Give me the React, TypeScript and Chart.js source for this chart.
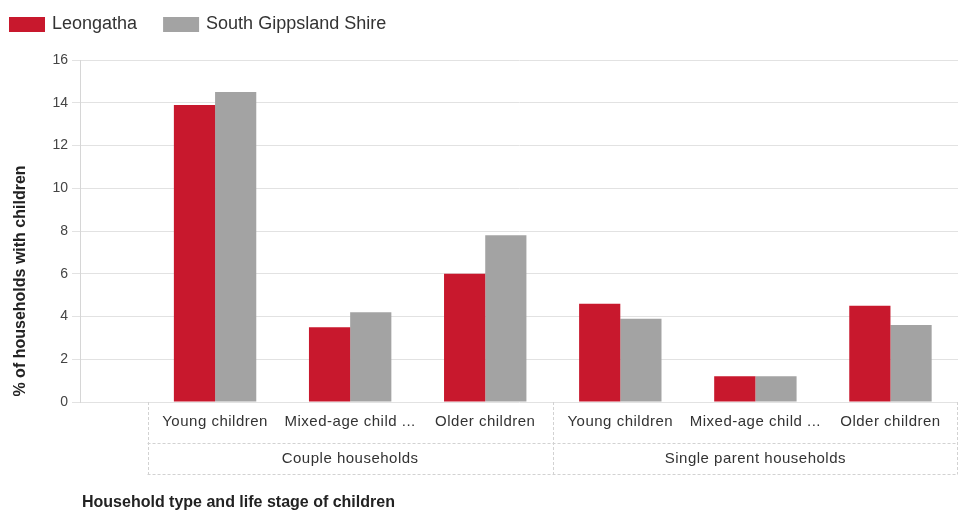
import React, { useEffect, useRef } from 'react';
import { Chart, registerables } from 'chart.js';

Chart.register(...registerables);

const seriesNames = ['Leongatha', 'South Gippsland Shire'];
const seriesColors = ['#C8182D', '#A3A3A3'];
const leongatha = [13.9, 3.5, 6.0, 4.6, 1.2, 4.5];
const southGippsland = [14.5, 4.2, 7.8, 3.9, 1.2, 3.6];
const lifeStages = [
  'Young children',
  'Mixed-age child ...',
  'Older children',
  'Young children',
  'Mixed-age child ...',
  'Older children',
];
const householdTypes = ['Couple households', 'Single parent households'];
const householdOfStage = [0, 0, 0, 1, 1, 1];
const yMin = 0;
const yMax = 16;
const yStep = 2;
const yTitle = '% of households with children';
const xTitle = 'Household type and life stage of children';

const FONT = "'Liberation Sans', Arial, sans-serif";

const decorPlugin = {
  id: 'decor',
  afterDraw(chart: any) {
    const ctx = chart.ctx as CanvasRenderingContext2D;
    const xs = chart.scales.x;
    const area = chart.chartArea;
    const n = lifeStages.length;
    const row1Top = area.bottom;
    const row1Bottom = area.bottom + 41;
    const row2Bottom = area.bottom + 72;
    const tableLeft = xs.getPixelForValue(-0.5);
    const tableRight = xs.getPixelForValue(n - 0.5);

    ctx.save();
    // table lines
    ctx.strokeStyle = '#d2d2d2';
    ctx.lineWidth = 1;
    ctx.setLineDash([3, 2]);
    ctx.beginPath();
    ctx.moveTo(tableLeft, row1Bottom + 0.5);
    ctx.lineTo(tableRight, row1Bottom + 0.5);
    ctx.moveTo(tableLeft, row2Bottom + 0.5);
    ctx.lineTo(tableRight, row2Bottom + 0.5);
    ctx.stroke();
    // vertical group separators
    const groupBounds: number[] = [];
    householdTypes.forEach((_, g) => {
      const idx = householdOfStage.map((h, i) => (h === g ? i : -1)).filter((i) => i >= 0);
      const l = xs.getPixelForValue(Math.min(...idx) - 0.5);
      const r = xs.getPixelForValue(Math.max(...idx) + 0.5);
      groupBounds.push(l, r);
    });
    const uniq = Array.from(new Set(groupBounds.map((v) => Math.round(v))));
    ctx.beginPath();
    uniq.forEach((px) => {
      const x = Math.min(px, Math.round(area.right) - 1);
      ctx.moveTo(x + 0.5, row1Top);
      ctx.lineTo(x + 0.5, row2Bottom);
    });
    ctx.stroke();
    ctx.setLineDash([]);

    // row 1 labels
    ctx.fillStyle = '#333';
    ctx.font = `15px ${FONT}`;
    (ctx as any).letterSpacing = '0.5px';
    ctx.textAlign = 'center';
    ctx.textBaseline = 'middle';
    lifeStages.forEach((lab, i) => {
      ctx.fillText(lab, xs.getPixelForValue(i), row1Top + 20);
    });
    // row 2 labels
    householdTypes.forEach((lab, g) => {
      const idx = householdOfStage.map((h, i) => (h === g ? i : -1)).filter((i) => i >= 0);
      const c = (xs.getPixelForValue(Math.min(...idx) - 0.5) + xs.getPixelForValue(Math.max(...idx) + 0.5)) / 2;
      ctx.fillText(lab, c, row1Bottom + 16);
    });
    (ctx as any).letterSpacing = '0px';

    // x title
    ctx.fillStyle = '#222';
    ctx.font = `bold 16px ${FONT}`;
    ctx.textAlign = 'left';
    ctx.textBaseline = 'alphabetic';
    ctx.fillText(xTitle, 82, 507);

    // y title
    ctx.save();
    ctx.translate(21, 281);
    ctx.rotate(-Math.PI / 2);
    ctx.textAlign = 'center';
    ctx.textBaseline = 'middle';
    ctx.fillText(yTitle, 0, 0);
    ctx.restore();

    // legend
    let lx = 9;
    ctx.font = `18px ${FONT}`;
    ctx.textAlign = 'left';
    ctx.textBaseline = 'middle';
    chart.data.datasets.forEach((ds: any) => {
      ctx.fillStyle = ds.backgroundColor;
      ctx.fillRect(lx, 17, 36, 15);
      ctx.fillStyle = '#333';
      ctx.fillText(ds.label, lx + 43, 24.5);
      lx += 43 + ctx.measureText(ds.label).width + 26;
    });
    ctx.restore();
  },
};

export default function App() {
  const ref = useRef<HTMLCanvasElement | null>(null);
  useEffect(() => {
    if (!ref.current) return;
    const chart = new Chart(ref.current, {
      type: 'bar',
      data: {
        datasets: [
          {
            label: seriesNames[0],
            data: leongatha.map((v, i) => ({ x: i, y: v })),
            backgroundColor: seriesColors[0],
            categoryPercentage: 0.61,
            barPercentage: 1,
          },
          {
            label: seriesNames[1],
            data: southGippsland.map((v, i) => ({ x: i, y: v })),
            backgroundColor: seriesColors[1],
            categoryPercentage: 0.61,
            barPercentage: 1,
          },
        ],
      },
      options: {
        animation: false,
        responsive: true,
        maintainAspectRatio: false,
        layout: { padding: { left: 0, right: 9, top: 60, bottom: 108 } },
        plugins: {
          legend: { display: false },
          tooltip: { enabled: false },
        },
        scales: {
          x: {
            type: 'linear',
            min: -1,
            max: lifeStages.length - 0.5,
            offset: false,
            display: false,
            ticks: { stepSize: 1, includeBounds: false },
          },
          y: {
            min: yMin,
            max: yMax,
            ticks: {
              stepSize: yStep,
              color: '#444',
              font: { size: 14, family: FONT },
              padding: 4,
            },
            grid: { color: '#e2e2e2', tickLength: 8 },
            border: { color: '#d6d6d6' },
            afterFit: (scale: any) => {
              scale.width = 80;
            },
          },
        },
      },
      plugins: [decorPlugin],
    });
    return () => chart.destroy();
  }, []);
  return (
    <div style={{ position: 'fixed', left: 0, top: 0, width: 967, height: 510, background: '#fff' }}>
      <canvas ref={ref} />
    </div>
  );
}
